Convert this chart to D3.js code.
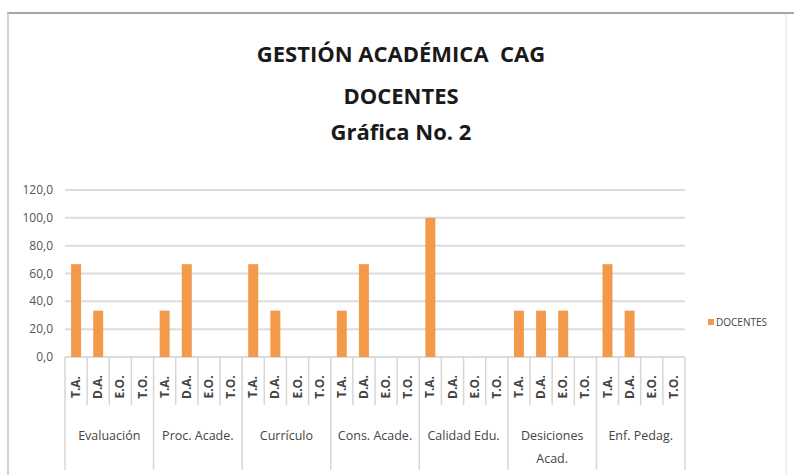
<!DOCTYPE html>
<html lang="es">
<head>
    <meta charset="UTF-8">
    <title>Gestión Académica CAG</title>
    <script src="https://cdn.jsdelivr.net/npm/d3@7"></script>
    <style>
        body { margin: 0; background: #fff; }
        text { font-family: "Open Sans", sans-serif; }
    </style>
</head>
<body>
</body>
<script>
    const width = 794;
    const height = 475;

    // chart data
    const groups = ["Evaluación", "Proc. Acade.", "Currículo", "Cons. Acade.", "Calidad Edu.", "Desiciones Acad.", "Enf. Pedag."];
    const subLabels = ["T.A.", "D.A.", "E.O.", "T.O."];
    const docentes = [
        [66.7, 33.3, 0, 0],
        [33.3, 66.7, 0, 0],
        [66.7, 33.3, 0, 0],
        [33.3, 66.7, 0, 0],
        [100, 0, 0, 0],
        [33.3, 33.3, 33.3, 0],
        [66.7, 33.3, 0, 0]
    ];
    const yTicks = [0, 20, 40, 60, 80, 100, 120];
    const seriesName = "DOCENTES";

    const rows = [];
    groups.forEach((g, gi) => subLabels.forEach((s, si) => {
        rows.push({ key: gi + "-" + si, group: g, sub: s, value: docentes[gi][si] });
    }));

    const svg = d3.select("body")
        .append("svg")
            .attr("width", width)
            .attr("height", height);

    // outer frame
    svg.append("line").attr("x1", 7).attr("x2", width).attr("y1", 13).attr("y2", 13)
        .attr("stroke", "#a6a6a6").attr("stroke-width", 2);
    svg.append("line").attr("x1", 8).attr("x2", 8).attr("y1", 13).attr("y2", height)
        .attr("stroke", "#d0d0d0").attr("stroke-width", 2);
    svg.append("line").attr("x1", 786).attr("x2", 786).attr("y1", 14).attr("y2", height)
        .attr("stroke", "#f0f0f0").attr("stroke-width", 2);

    // titles
    const titles = [
        { t: "GESTIÓN ACADÉMICA  CAG", y: 62 },
        { t: "DOCENTES", y: 104 },
        { t: "Gráfica No. 2", y: 140 }
    ];
    svg.selectAll(".title")
        .data(titles)
        .enter()
        .append("text")
        .attr("x", 401)
        .attr("y", d => d.y)
        .attr("text-anchor", "middle")
        .style("font-size", "22px")
        .style("font-weight", "bold")
        .style("fill", "#1a1a1a")
        .style("white-space", "pre")
        .text(d => d.t);

    const plotLeft = 65, plotRight = 685, plotTop = 190, plotBottom = 357;

    const x = d3.scaleBand()
        .domain(rows.map(d => d.key))
        .range([plotLeft, plotRight]);

    const y = d3.scaleLinear()
        .domain([0, 120])
        .range([plotBottom, plotTop]);

    // gridlines
    svg.append("g")
        .selectAll("line")
        .data(yTicks)
        .enter()
        .append("line")
        .attr("x1", plotLeft)
        .attr("x2", plotRight)
        .attr("y1", d => y(d))
        .attr("y2", d => y(d))
        .attr("stroke", "#dcdcdc")
        .attr("stroke-width", 2);

    // y axis labels
    svg.append("g")
        .selectAll("text")
        .data(yTicks)
        .enter()
        .append("text")
        .attr("x", 53)
        .attr("y", d => y(d) + 4)
        .attr("text-anchor", "end")
        .style("font-size", "12px")
        .style("fill", "#555")
        .text(d => d3.format(".1f")(d).replace(".", ","));

    // bars
    const barW = x.bandwidth() * 0.45;
    svg.append("g")
        .selectAll("rect")
        .data(rows)
        .enter()
        .append("rect")
        .attr("x", d => x(d.key) + (x.bandwidth() - barW) / 2)
        .attr("y", d => y(d.value))
        .attr("width", barW)
        .attr("height", d => y(0) - y(d.value))
        .attr("fill", "#f39a4a");

    // category dividers
    svg.append("g")
        .selectAll("line")
        .data(rows.concat([null]))
        .enter()
        .append("line")
        .attr("x1", (d, i) => plotLeft + i * x.step())
        .attr("x2", (d, i) => plotLeft + i * x.step())
        .attr("y1", plotBottom)
        .attr("y2", (d, i) => i % 4 === 0 ? 470 : 405)
        .attr("stroke", "#d6d6d6")
        .attr("stroke-width", 1.5);

    // sub labels (rotated)
    svg.append("g")
        .selectAll("text")
        .data(rows)
        .enter()
        .append("text")
        .attr("transform", d => `translate(${x(d.key) + x.bandwidth() / 2 + 4}, 387) rotate(-90)`)
        .attr("text-anchor", "middle")
        .style("font-size", "12px")
        .style("font-weight", "bold")
        .style("fill", "#444")
        .text(d => d.sub);

    // group labels
    const groupW = x.step() * subLabels.length;
    const gl = svg.append("g")
        .selectAll("text")
        .data(groups)
        .enter()
        .append("text")
        .attr("x", (d, i) => plotLeft + i * groupW + groupW / 2)
        .attr("y", 440)
        .attr("text-anchor", "middle")
        .style("font-size", "12.5px")
        .style("fill", "#444");
    gl.each(function(d) {
        const parts = d === "Desiciones Acad." ? ["Desiciones", "Acad."] : [d];
        const t = d3.select(this);
        const cx = t.attr("x");
        parts.forEach((p, k) => t.append("tspan").attr("x", cx).attr("dy", k ? 23 : 0).text(p));
    });

    // legend
    svg.append("rect")
        .attr("x", 708)
        .attr("y", 319)
        .attr("width", 6)
        .attr("height", 6)
        .attr("fill", "#f39a4a");
    svg.append("text")
        .attr("x", 716)
        .attr("y", 326)
        .style("font-size", "10px")
        .style("fill", "#444")
        .text(seriesName);
</script>
</html>
